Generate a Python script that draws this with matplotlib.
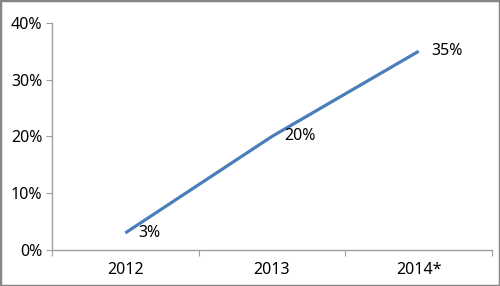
import matplotlib
matplotlib.use("Agg")
import matplotlib.pyplot as plt
from matplotlib.patches import Rectangle
from matplotlib.ticker import FuncFormatter

years = ["2012", "2013", "2014*"]
values = [3, 20, 35]
labels = ["3%", "20%", "35%"]

plt.rcParams['font.family'] = ['Noto Sans', 'DejaVu Sans']

fig = plt.figure(figsize=(5.0, 2.86), dpi=100)
ax = fig.add_axes([0.104, 0.126, 0.88, 0.794])

x = [i + 0.5 for i in range(len(years))]
ax.plot(x, values, color="#4a7ebb", lw=2.3, solid_capstyle="butt")
for xi, v, t in zip(x, values, labels):
    ax.annotate(t, (xi, v), xytext=(9, 0), textcoords="offset points",
                ha="left", va="center", fontsize=11.5, color="#000000")

ax.set_xlim(0, len(years))
ax.set_ylim(0, 40)
ax.set_yticks(range(0, 41, 10))
ax.yaxis.set_major_formatter(FuncFormatter(lambda v, p: f"{int(v)}%"))
ax.set_xticks(range(len(years) + 1))
ax.set_xticklabels([])
ax.set_xticks(x, minor=True)
ax.set_xticklabels(years, minor=True)
ax.tick_params(axis="x", which="major", length=4, color="#a0a0a0", direction="out")
ax.tick_params(axis="x", which="minor", length=0, labelsize=11.5, pad=9)
ax.tick_params(axis="y", length=4, color="#a0a0a0", labelsize=11.5, pad=3)

for s in ["top", "right"]:
    ax.spines[s].set_visible(False)
for s in ["left", "bottom"]:
    ax.spines[s].set_color("#a0a0a0")
    ax.spines[s].set_linewidth(1.0)

fig.patches.append(Rectangle((0, 0), 1, 1, transform=fig.transFigure, fill=False,
                             edgecolor="#868686", lw=2.5))

fig.savefig("out.png", dpi=100)
